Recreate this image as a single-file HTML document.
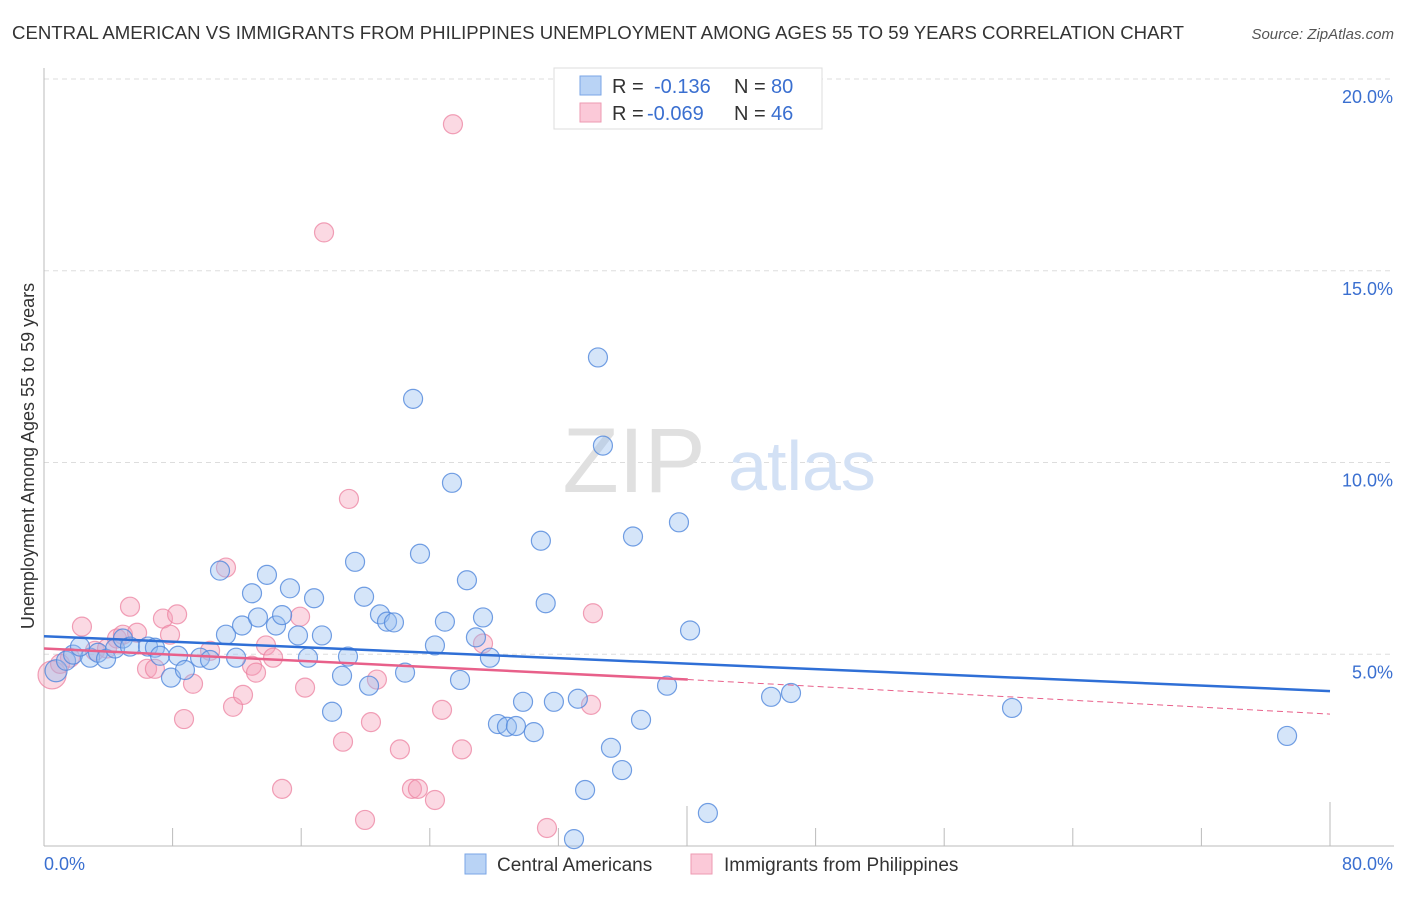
<!DOCTYPE html>
<html><head><meta charset="utf-8"><style>
body{margin:0;background:#fff;font-family:"Liberation Sans",sans-serif;}
svg text{font-family:"Liberation Sans",sans-serif;}
</style></head><body>
<svg id="c" width="1406" height="892">
<text x="12" y="39" font-size="18" fill="#333" textLength="1172" lengthAdjust="spacingAndGlyphs">CENTRAL AMERICAN VS IMMIGRANTS FROM PHILIPPINES UNEMPLOYMENT AMONG AGES 55 TO 59 YEARS CORRELATION CHART</text>
<text x="1394" y="39" font-size="15" fill="#555" font-style="italic" text-anchor="end">Source: ZipAtlas.com</text>
<text x="34" y="456" font-size="18" fill="#333" text-anchor="middle" transform="rotate(-90 34 456)">Unemployment Among Ages 55 to 59 years</text>
<g id="grid"></g>
<text x="634" y="492" font-size="92" fill="#e0e0e0" font-family="Liberation Serif" text-anchor="middle">ZIP</text>
<text x="802" y="490" font-size="70" fill="#d3e1f5" text-anchor="middle">atlas</text>
<g id="pts"></g>
<g id="lines"></g>
<g>
<rect x="554" y="68" width="268" height="61" fill="#fff" stroke="#ddd"/>
<rect x="580" y="76" width="21" height="19" fill="#b9d3f5" stroke="#7aa6e6"/>
<rect x="580" y="103" width="21" height="19" fill="#fbc9d8" stroke="#ee9ab2"/>
<text x="612" y="93" font-size="20" fill="#333">R = </text><text x="654" y="93" font-size="20" fill="#3a6fd0">-0.136</text>
<text x="734" y="93" font-size="20" fill="#333">N = </text><text x="771" y="93" font-size="20" fill="#3a6fd0">80</text>
<text x="612" y="120" font-size="20" fill="#333">R = </text><text x="647" y="120" font-size="20" fill="#3a6fd0">-0.069</text>
<text x="734" y="120" font-size="20" fill="#333">N = </text><text x="771" y="120" font-size="20" fill="#3a6fd0">46</text>
</g>
<g>
<rect x="465" y="854" width="21" height="20" fill="#b9d3f5" stroke="#7aa6e6"/>
<text x="497" y="871" font-size="19" fill="#333">Central Americans</text>
<rect x="691" y="854" width="21" height="20" fill="#fbc9d8" stroke="#ee9ab2"/>
<text x="724" y="871" font-size="19" fill="#333">Immigrants from Philippines</text>
</g>
</svg>
<script>
const xTicks=[0,8,16,24,32,40,48,56,64,72,80];
const yTicks=[5,10,15,20];
const blueX=[0.75,1.37,1.81,2.87,3.36,3.86,2.24,4.42,4.91,5.35,6.47,6.9,7.22,7.9,8.34,8.77,9.71,10.33,10.95,11.32,11.95,12.32,12.94,13.31,13.87,14.43,14.81,15.3,15.8,16.42,16.8,17.29,17.92,18.54,18.91,19.35,19.91,20.22,20.9,21.34,21.77,22.46,22.96,23.39,24.32,24.94,25.38,25.88,26.31,26.87,27.31,27.74,28.24,28.8,29.36,29.8,30.47,30.91,31.21,31.72,33.21,33.66,34.46,34.77,35.27,35.96,36.64,37.14,38.76,39.5,40.19,41.3,45.23,46.47,60.22,77.33,32.97];
const blueY=[4.57,4.83,4.99,4.91,5.04,4.88,5.2,5.15,5.41,5.2,5.2,5.17,4.96,4.39,4.96,4.59,4.91,4.85,7.18,5.51,4.91,5.75,6.59,5.96,7.07,5.75,6.02,6.72,5.49,4.91,6.46,5.49,3.5,4.44,4.94,7.41,6.5,4.18,6.04,5.85,5.83,4.52,11.66,7.62,5.23,5.85,9.47,4.33,6.93,5.44,5.96,4.91,3.18,3.11,3.13,3.76,2.97,7.96,6.33,3.76,3.84,1.46,12.74,10.44,2.56,1.98,8.07,3.29,4.18,8.44,5.62,0.86,3.89,3.99,3.6,2.87,0.18];
const pinkX=[0.5,1,1.62,2.36,3.17,3.92,4.54,4.91,5.35,5.79,6.41,6.9,7.4,7.84,8.28,8.71,9.27,10.33,11.32,11.76,12.38,12.94,13.19,13.81,14.25,14.81,15.93,16.24,17.42,18.6,18.97,19.97,20.34,20.71,22.14,22.89,23.26,24.32,24.76,25.44,26,27.31,31.29,34.03,34.15];
const pinkY=[4.46,4.75,4.91,5.72,5.09,5.15,5.41,5.51,6.24,5.56,4.62,4.62,5.93,5.51,6.04,3.31,4.23,5.09,7.26,3.63,3.94,4.7,4.52,5.23,4.91,1.49,5.98,4.13,16.0,2.72,9.05,0.68,3.23,4.34,2.52,1.49,1.49,1.2,3.55,18.82,2.52,5.28,0.47,3.68,6.07];
const xMin=0,xMax=80,yMin=0,yMax=20;
const X=v=>44+(v-xMin)/(xMax-xMin)*1286;
const Y=v=>846-(v-yMin)/(yMax-yMin)*767;
const NS="http://www.w3.org/2000/svg";
function mk(p,t,a){const e=document.createElementNS(NS,t);for(const k in a)e.setAttribute(k,a[k]);p.appendChild(e);return e;}
const grid=document.getElementById('grid');
yTicks.forEach(t=>{
 const l=mk(grid,'line',{x1:44,x2:1394,y1:Y(t),y2:Y(t),stroke:'#ddd','stroke-dasharray':'5,4'});
 
 
 const tx=mk(grid,'text',{x:1393,y:Y(t)+24,'font-size':18,fill:'#3a6fd0','text-anchor':'end'});
 tx.textContent=t.toFixed(1)+'%';
 
 
});
const ax=mk(grid,'line',{x1:44,x2:44,y1:68,y2:846,stroke:'#bbb'});


const bx=mk(grid,'line',{x1:44,x2:1394,y1:846,y2:846,stroke:'#bbb'});


xTicks.forEach((t,i)=>{
 if(i===0)return;
 const h=i===5?40:(i===10?44:18);
 const l=mk(grid,'line',{x1:X(t),x2:X(t),y1:846-h,y2:846,stroke:'#bbb'});
 
 
});
[[0,'start'],[80,'end']].forEach(([v,a])=>{
 const tx=mk(grid,'text',{x:v===0?44:1393,y:870,'font-size':18,fill:'#3a6fd0','text-anchor':a});
 tx.textContent=v.toFixed(1)+'%';
 
 
});
const pts=document.getElementById('pts');
pinkX.forEach((x,i)=>{
 const c=mk(pts,'circle',{cx:X(x),cy:Y(pinkY[i]),r:i===0?14:9.5,fill:'rgba(246,160,186,0.4)',stroke:'rgba(236,130,160,0.75)','stroke-width':1.2});
 
 
});
blueX.forEach((x,i)=>{
 const c=mk(pts,'circle',{cx:X(x),cy:Y(blueY[i]),r:i===0?11:9.5,fill:'rgba(150,190,240,0.4)',stroke:'rgba(80,135,220,0.8)','stroke-width':1.2});
 
 
});
const lines=document.getElementById('lines');
const bl=mk(lines,'line',{x1:X(0),y1:Y(5.47),x2:X(80),y2:Y(4.04),stroke:'#2f6fd6','stroke-width':2.5});


const pl=mk(lines,'line',{x1:X(0),y1:Y(5.15),x2:X(40.05),y2:Y(4.34),stroke:'#e8608a','stroke-width':2.5});


const pd=mk(lines,'line',{x1:X(40.05),y1:Y(4.34),x2:X(80),y2:Y(3.44),stroke:'#e8608a','stroke-width':1,'stroke-dasharray':'6,4'});


</script>
</body></html>
